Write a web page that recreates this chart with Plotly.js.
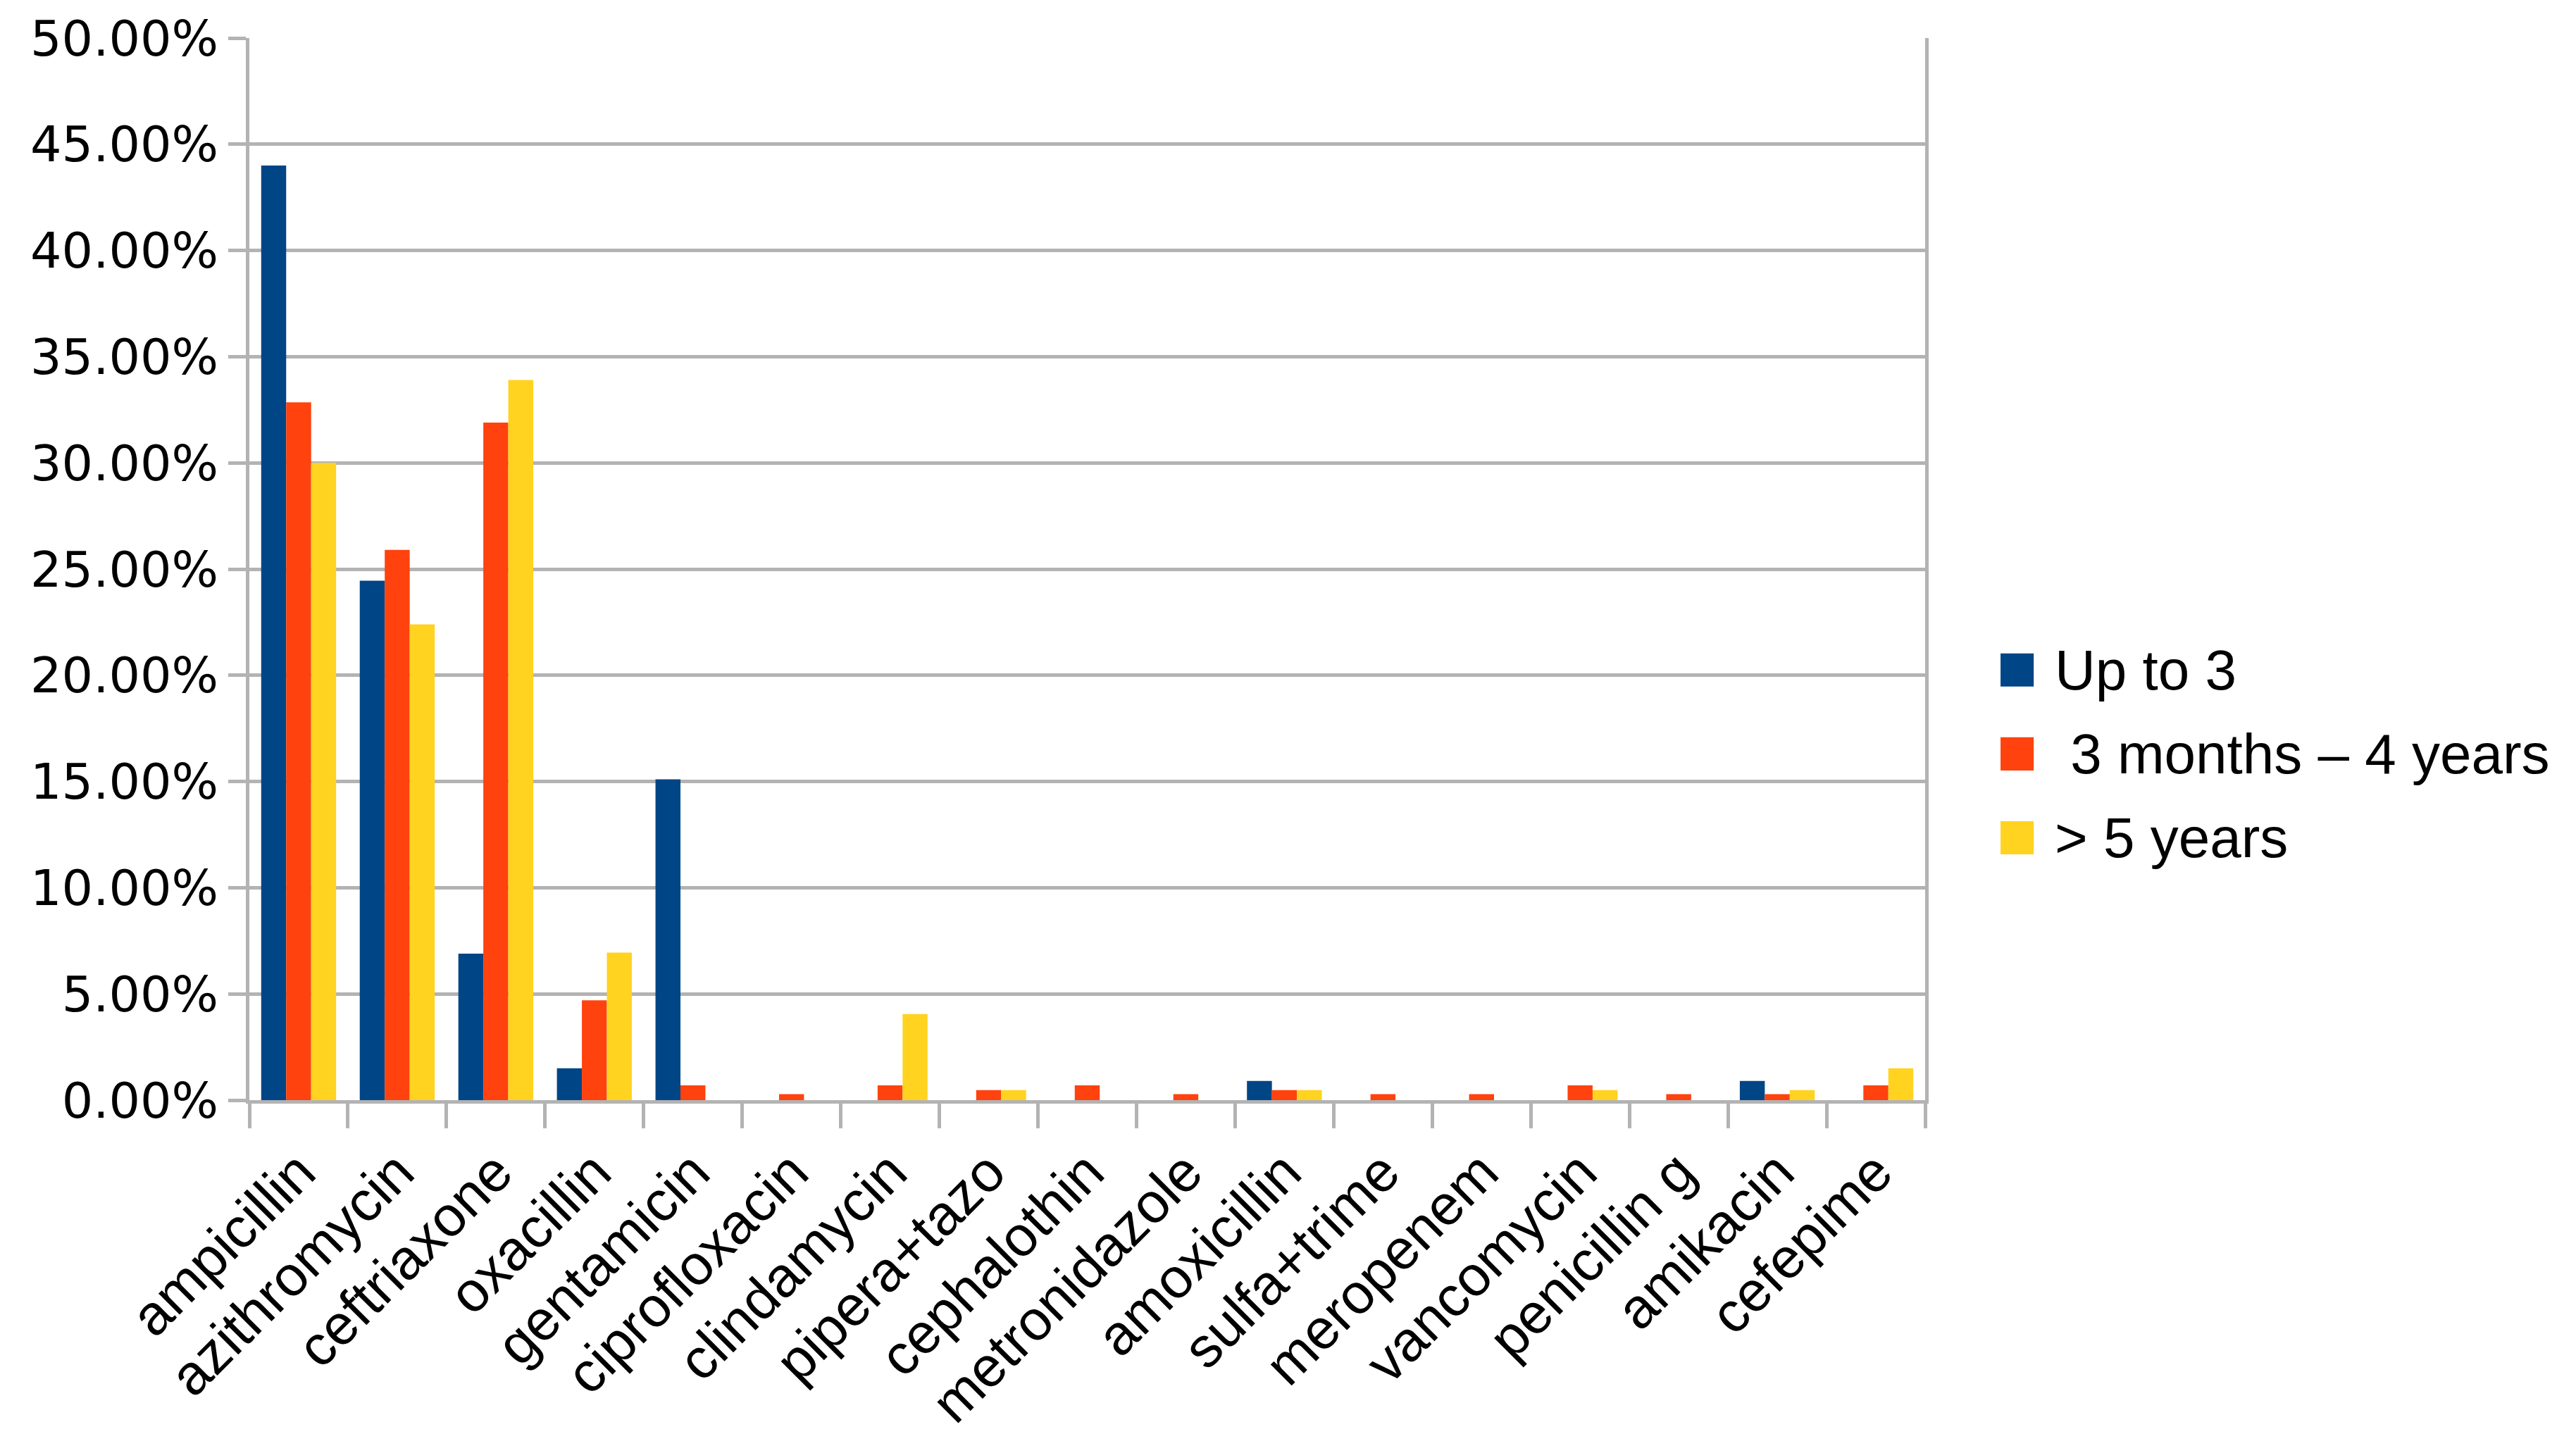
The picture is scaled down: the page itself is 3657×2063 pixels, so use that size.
<!DOCTYPE html>
<html>
<head>
<meta charset="utf-8">
<script src="https://cdn.plot.ly/plotly-3.0.1.min.js"></script>
<style>
  html, body { margin: 0; padding: 0; background: #ffffff; }
  #chart { width: 3657px; height: 2063px; }
</style>
</head>
<body>
<div id="chart"></div>
<script>
const categories = ["ampicillin", "azithromycin", "ceftriaxone", "oxacillin", "gentamicin",
  "ciprofloxacin", "clindamycin", "pipera+tazo", "cephalothin", "metronidazole",
  "amoxicillin", "sulfa+trime", "meropenem", "vancomycin", "penicillin g", "amikacin", "cefepime"];

const seriesNames = ["Up to 3", " 3 months \u2013 4 years", "> 5 years"];

const upTo3 = [44.0, 24.45, 6.9, 1.5, 15.1, 0, 0, 0, 0, 0, 0.9, 0, 0, 0, 0, 0.9, 0];
const months3to4years = [32.85, 25.9, 31.9, 4.7, 0.7, 0.28, 0.7, 0.47, 0.7, 0.28, 0.47, 0.28, 0.28, 0.7, 0.28, 0.28, 0.7];
const over5years = [30.0, 22.4, 33.9, 6.95, 0, 0, 4.05, 0.47, 0, 0, 0.47, 0, 0, 0.47, 0, 0.47, 1.5];

const yTickValues = [0, 5, 10, 15, 20, 25, 30, 35, 40, 45, 50];

const colors = ["#004586", "#ff420e", "#ffd320"];
const seriesValues = [upTo3, months3to4years, over5years];

const traces = seriesValues.map((vals, i) => ({
  type: "bar",
  name: seriesNames[i],
  x: categories,
  y: vals,
  marker: { color: colors[i], line: { width: 0 } },
  showlegend: false,
  hoverinfo: "x+y+name"
}));

const gridColor = "#b3b3b3";

// custom legend (large squares like the reference)
const legendX0 = 1.045, legendX1 = 1.0648, legendTextX = 1.0765;
const legendY = [0.405, 0.326, 0.247];
const legendHalf = 0.0156;
const shapes = [];
const annotations = [];
seriesNames.forEach((name, i) => {
  shapes.push({
    type: "rect", xref: "paper", yref: "paper",
    x0: legendX0, x1: legendX1, y0: legendY[i] - legendHalf, y1: legendY[i] + legendHalf,
    fillcolor: colors[i], line: { width: 0 }
  });
  annotations.push({
    xref: "paper", yref: "paper", x: legendTextX, y: legendY[i],
    xanchor: "left", yanchor: "middle", showarrow: false,
    text: name.replace(/^ /, "\u00a0"),
    font: { family: "Liberation Sans, Arial, sans-serif", size: 80, color: "#000000" }
  });
});

const layout = {
  width: 3657,
  height: 2063,
  paper_bgcolor: "#ffffff",
  plot_bgcolor: "#ffffff",
  margin: { l: 354, r: 924, t: 54, b: 501, pad: 0 },
  barmode: "group",
  bargap: 0.24,
  bargroupgap: 0,
  showlegend: false,
  xaxis: {
    type: "category",
    tickangle: -45,
    ticks: "outside",
    tickson: "boundaries",
    ticklen: 35,
    tickwidth: 5,
    tickcolor: gridColor,
    showline: true,
    linecolor: gridColor,
    linewidth: 5,
    showgrid: false,
    ticklabelstandoff: 18,
    tickfont: { family: "Liberation Sans, Arial, sans-serif", size: 80, color: "#000000" }
  },
  yaxis: {
    range: [0, 50],
    tickvals: yTickValues,
    ticktext: yTickValues.map(v => v.toFixed(2) + "%"),
    ticks: "outside",
    ticklen: 25,
    tickwidth: 5,
    tickcolor: gridColor,
    showline: true,
    mirror: true,
    linecolor: gridColor,
    linewidth: 5,
    showgrid: true,
    gridcolor: gridColor,
    gridwidth: 5,
    zeroline: false,
    ticklabelstandoff: 0,
    tickfont: { family: "DejaVu Sans, sans-serif", size: 70, color: "#000000" }
  },
  shapes: shapes,
  annotations: annotations
};

Plotly.newPlot("chart", traces, layout, { displayModeBar: false, responsive: false });
</script>
</body>
</html>
